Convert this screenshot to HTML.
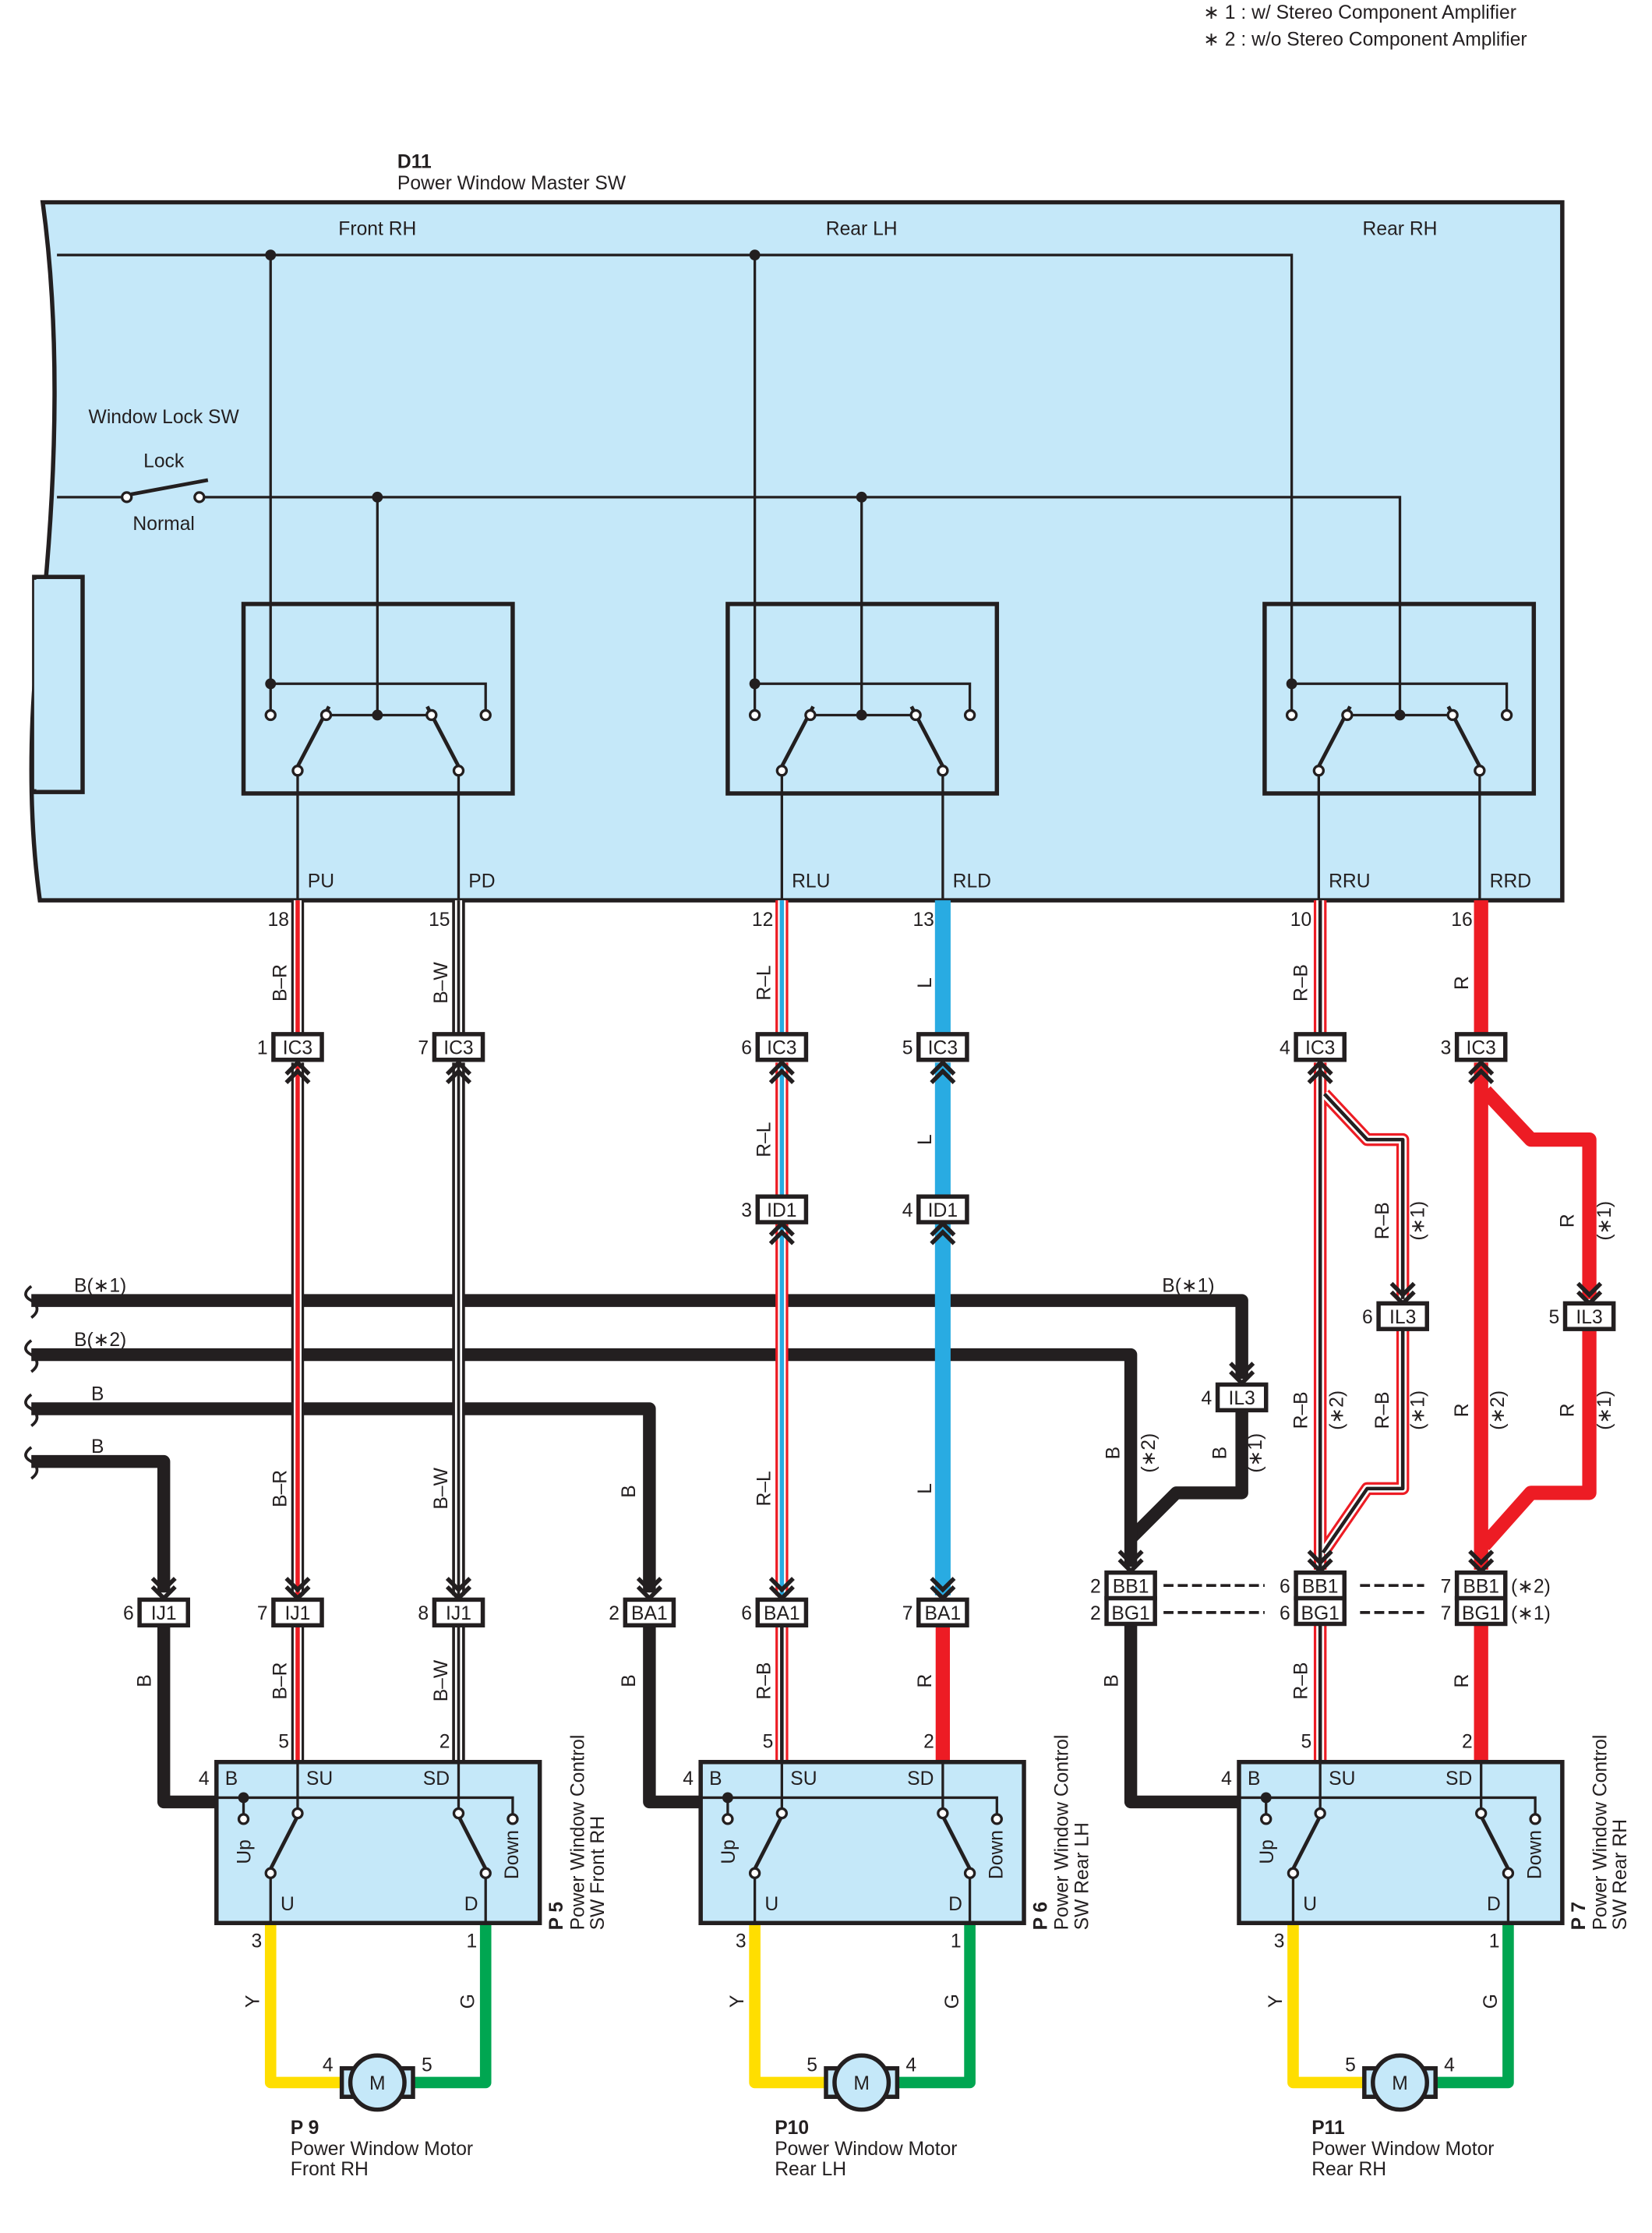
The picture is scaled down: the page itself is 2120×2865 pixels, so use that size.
<!DOCTYPE html>
<html><head><meta charset="utf-8"><style>
html,body{margin:0;padding:0;background:#fff}
svg{display:block}
text{font-family:"Liberation Sans",Arial,sans-serif;font-size:13.5px;fill:#231f20}
.b{font-weight:bold}
.m{text-anchor:middle}
.e{text-anchor:end}
</style></head><body>
<svg width="2120" height="2865" viewBox="0 0 1160 1567.6" xmlns="http://www.w3.org/2000/svg">
<defs>
<path id="chd" d="M-8,-13 L0,-5 L8,-13 M-8,-7 L0,1 L8,-7" fill="none" stroke="#231f20" stroke-width="3"/>
<path id="chu" d="M-8,13 L0,5 L8,13 M-8,7 L0,-1 L8,7" fill="none" stroke="#231f20" stroke-width="3"/>
</defs>

<!-- notes -->
<text x="845" y="13">∗ 1 : w/ Stereo Component Amplifier</text>
<text x="845" y="32">∗ 2 : w/o Stereo Component Amplifier</text>
<text x="279" y="118" class="b">D11</text>
<text x="279" y="133">Power Window Master SW</text>

<!-- master box -->
<path d="M30,142 L1097,142 L1097,632 L28,632 C18,560 22,480 30,430 C40,330 42,230 30,142 Z" fill="#c5e8f9" stroke="#231f20" stroke-width="3"/>
<rect x="24" y="405" width="34" height="151" fill="#c5e8f9" stroke="#231f20" stroke-width="3"/>
<rect x="24" y="407" width="5" height="147" fill="#c5e8f9"/>
<text x="265" y="165" class="m">Front RH</text>
<text x="605" y="165" class="m">Rear LH</text>
<text x="983" y="165" class="m">Rear RH</text>
<text x="115" y="297" class="m">Window Lock SW</text>
<text x="115" y="328" class="m">Lock</text>
<text x="115" y="372" class="m">Normal</text>

<g stroke="#231f20" stroke-width="1.8" fill="none">
<path d="M40,179 L907,179 L907,480"/>
<path d="M40,349 L86,349 M144,349 L983,349 L983,502"/>
<path d="M92,347 L146,337" stroke-width="2.6"/>
<circle cx="89" cy="349" r="3.3" fill="#fff"/><circle cx="140" cy="349" r="3.3" fill="#fff"/>
<!-- switch boxes -->
<g id="sw1">
<rect x="171" y="424" width="189" height="133" stroke-width="3"/>
<path d="M190,179 L190,498 M190,480 L341,480 L341,498 M265,349 L265,502 M229,502 L303,502 M209,545 L209,632 M322,545 L322,632"/>
<path d="M209,538 L231,496 M322,538 L300,496" stroke-width="2.6"/>
<circle cx="190" cy="502" r="3.3" fill="#fff"/><circle cx="341" cy="502" r="3.3" fill="#fff"/>
<circle cx="229" cy="502" r="3.3" fill="#fff"/><circle cx="303" cy="502" r="3.3" fill="#fff"/>
<circle cx="209" cy="541" r="3.3" fill="#fff"/><circle cx="322" cy="541" r="3.3" fill="#fff"/>
</g>
<use href="#sw1" transform="translate(340,0)"/>
<g transform="translate(717,0)">
<rect x="171" y="424" width="189" height="133" stroke-width="3"/>
<path d="M190,480 L190,498 M190,480 L341,480 L341,498 M229,502 L303,502 M209,545 L209,632 M322,545 L322,632"/>
<path d="M209,538 L231,496 M322,538 L300,496" stroke-width="2.6"/>
<circle cx="190" cy="502" r="3.3" fill="#fff"/><circle cx="341" cy="502" r="3.3" fill="#fff"/>
<circle cx="229" cy="502" r="3.3" fill="#fff"/><circle cx="303" cy="502" r="3.3" fill="#fff"/>
<circle cx="209" cy="541" r="3.3" fill="#fff"/><circle cx="322" cy="541" r="3.3" fill="#fff"/>
</g>
</g>
<g fill="#231f20">
<circle cx="190" cy="179" r="3.8"/><circle cx="530" cy="179" r="3.8"/>
<circle cx="265" cy="349" r="3.8"/><circle cx="605" cy="349" r="3.8"/>
<circle cx="190" cy="480" r="3.8"/><circle cx="530" cy="480" r="3.8"/><circle cx="907" cy="480" r="3.8"/>
<circle cx="265" cy="502" r="3.8"/><circle cx="605" cy="502" r="3.8"/><circle cx="983" cy="502" r="3.8"/>
</g>
<text x="216" y="623">PU</text><text x="329" y="623">PD</text>
<text x="556" y="623">RLU</text><text x="669" y="623">RLD</text>
<text x="933" y="623">RRU</text><text x="1046" y="623">RRD</text>

<!-- wire paths -->
<g fill="none" stroke-linejoin="round">
<!-- black buses -->
<g stroke="#231f20" stroke-width="9">
<path d="M22,913 L872,913 L872,968"/>
<path d="M872,990 L872,1048 L826,1048 L794,1080"/>
<path d="M22,951 L794,951 L794,1100"/>
<path d="M22,989 L456,989 L456,1118"/>
<path d="M456,1141 L456,1265 L492,1265"/>
<path d="M22,1026 L115,1026 L115,1118"/>
<path d="M115,1141 L115,1265 L152,1265"/>
<path d="M794,1141 L794,1265 L870,1265"/>
</g>
<g stroke="#231f20" stroke-width="2">
<path d="M22,903 q-8,6 0,10 q8,6 0,12"/><path d="M22,941 q-8,6 0,10 q8,6 0,12"/>
<path d="M22,979 q-8,6 0,10 q8,6 0,12"/><path d="M22,1016 q-8,6 0,10 q8,6 0,12"/>
</g>
<!-- col A B-R -->
<path id="wa" d="M209,632 L209,726 M209,746 L209,1120 M209,1141 L209,1237"/>
<!-- col B B-W -->
<path id="wb" d="M322,632 L322,726 M322,746 L322,1120 M322,1141 L322,1237"/>
<!-- col C R-L -->
<path id="wc" d="M549,632 L549,726 M549,746 L549,839 M549,859 L549,1120"/>
<path id="wc2" d="M549,1141 L549,1237"/>
<!-- col E R-B -->
<path id="we" d="M927,632 L927,726 M927,746 L927,1102 M927,1141 L927,1237 M930,768 L960,800 L985,800 L985,912 M985,933 L985,1045 L960,1045 L929,1090"/>
<use href="#wa" stroke="#231f20" stroke-width="9"/><use href="#wa" stroke="#fff" stroke-width="5.5"/><use href="#wa" stroke="#ed1c24" stroke-width="3"/>
<use href="#wb" stroke="#231f20" stroke-width="9"/><use href="#wb" stroke="#fff" stroke-width="5"/><use href="#wb" stroke="#231f20" stroke-width="2"/>
<use href="#wc" stroke="#ed1c24" stroke-width="9"/><use href="#wc" stroke="#fff" stroke-width="5.5"/><use href="#wc" stroke="#29abe2" stroke-width="3"/>
<use href="#wc2" stroke="#ed1c24" stroke-width="9"/><use href="#wc2" stroke="#fff" stroke-width="5.5"/><use href="#wc2" stroke="#231f20" stroke-width="2.5"/>
<use href="#we" stroke="#ed1c24" stroke-width="9"/><use href="#we" stroke="#fff" stroke-width="5.5"/><use href="#we" stroke="#231f20" stroke-width="2.5"/>
<!-- col D -->
<path d="M662,632 L662,726 M662,746 L662,839 M662,859 L662,1120" stroke="#29abe2" stroke-width="11"/>
<path d="M662,1141 L662,1237" stroke="#ed1c24" stroke-width="10"/>
<!-- col F -->
<path d="M1040,632 L1040,726 M1040,746 L1040,1102 M1040,1141 L1040,1237 M1043,766 L1075,800 L1116,800 L1116,912 M1116,933 L1116,1048 L1075,1048 L1042,1085" stroke="#ed1c24" stroke-width="10"/>
<!-- motors wires -->
<g stroke-width="8">
<path d="M190,1350 L190,1462 L240,1462" stroke="#ffde00"/><path d="M341,1350 L341,1462 L290,1462" stroke="#00a651"/>
<path d="M530,1350 L530,1462 L580,1462" stroke="#ffde00"/><path d="M681,1350 L681,1462 L630,1462" stroke="#00a651"/>
<path d="M908,1350 L908,1462 L958,1462" stroke="#ffde00"/><path d="M1059,1350 L1059,1462 L1008,1462" stroke="#00a651"/>
</g>
<!-- dashed -->
<g stroke="#231f20" stroke-width="2" stroke-dasharray="7,3">
<path d="M817,1113 L888,1113 M817,1132 L888,1132 M955,1113 L1000,1113 M955,1132 L1000,1132"/>
</g>
</g>

<!-- chevrons -->
<g fill="none">
<use href="#chu" x="209" y="747"/><use href="#chu" x="322" y="747"/><use href="#chu" x="549" y="747"/><use href="#chu" x="662" y="747"/><use href="#chu" x="927" y="747"/><use href="#chu" x="1040" y="747"/>
<use href="#chu" x="549" y="860"/><use href="#chu" x="662" y="860"/>
<use href="#chd" x="115" y="1121"/><use href="#chd" x="209" y="1121"/><use href="#chd" x="322" y="1121"/><use href="#chd" x="456" y="1121"/><use href="#chd" x="549" y="1121"/><use href="#chd" x="662" y="1121"/>
<use href="#chd" x="794" y="1102"/><use href="#chd" x="927" y="1102"/><use href="#chd" x="1040" y="1102"/>
<use href="#chd" x="872" y="970"/><use href="#chd" x="985" y="914"/><use href="#chd" x="1116" y="914"/>
</g>

<!-- connectors -->
<g fill="#fff" stroke="#231f20" stroke-width="3">
<rect x="192" y="726" width="34" height="18"/><rect x="305" y="726" width="34" height="18"/>
<rect x="532" y="726" width="34" height="18"/><rect x="645" y="726" width="34" height="18"/>
<rect x="910" y="726" width="34" height="18"/><rect x="1023" y="726" width="34" height="18"/>
<rect x="532" y="840" width="34" height="18"/><rect x="645" y="840" width="34" height="18"/>
<rect x="98" y="1123" width="34" height="18"/><rect x="192" y="1123" width="34" height="18"/><rect x="305" y="1123" width="34" height="18"/>
<rect x="439" y="1123" width="34" height="18"/><rect x="532" y="1123" width="34" height="18"/><rect x="645" y="1123" width="34" height="18"/>
<rect x="777" y="1104" width="34" height="18"/><rect x="777" y="1122" width="34" height="18"/>
<rect x="910" y="1104" width="34" height="18"/><rect x="910" y="1122" width="34" height="18"/>
<rect x="1023" y="1104" width="34" height="18"/><rect x="1023" y="1122" width="34" height="18"/>
<rect x="855" y="972" width="34" height="18"/><rect x="968" y="915" width="34" height="18"/><rect x="1099" y="915" width="34" height="18"/>
</g>
<g class="m">
<text x="209" y="740" class="m">IC3</text><text x="322" y="740" class="m">IC3</text><text x="549" y="740" class="m">IC3</text><text x="662" y="740" class="m">IC3</text><text x="927" y="740" class="m">IC3</text><text x="1040" y="740" class="m">IC3</text>
<text x="549" y="854" class="m">ID1</text><text x="662" y="854" class="m">ID1</text>
<text x="115" y="1137" class="m">IJ1</text><text x="209" y="1137" class="m">IJ1</text><text x="322" y="1137" class="m">IJ1</text>
<text x="456" y="1137" class="m">BA1</text><text x="549" y="1137" class="m">BA1</text><text x="662" y="1137" class="m">BA1</text>
<text x="794" y="1118" class="m">BB1</text><text x="794" y="1137" class="m">BG1</text>
<text x="927" y="1118" class="m">BB1</text><text x="927" y="1137" class="m">BG1</text>
<text x="1040" y="1118" class="m">BB1</text><text x="1040" y="1137" class="m">BG1</text>
<text x="872" y="986" class="m">IL3</text><text x="985" y="929" class="m">IL3</text><text x="1116" y="929" class="m">IL3</text>
</g>
<!-- pin numbers -->
<g>
<text x="203" y="650" class="e">18</text><text x="316" y="650" class="e">15</text><text x="543" y="650" class="e">12</text><text x="656" y="650" class="e">13</text><text x="921" y="650" class="e">10</text><text x="1034" y="650" class="e">16</text>
<text x="188" y="740" class="e">1</text><text x="301" y="740" class="e">7</text><text x="528" y="740" class="e">6</text><text x="641" y="740" class="e">5</text><text x="906" y="740" class="e">4</text><text x="1019" y="740" class="e">3</text>
<text x="528" y="854" class="e">3</text><text x="641" y="854" class="e">4</text>
<text x="94" y="1137" class="e">6</text><text x="188" y="1137" class="e">7</text><text x="301" y="1137" class="e">8</text><text x="435" y="1137" class="e">2</text><text x="528" y="1137" class="e">6</text><text x="641" y="1137" class="e">7</text>
<text x="773" y="1118" class="e">2</text><text x="773" y="1137" class="e">2</text><text x="906" y="1118" class="e">6</text><text x="906" y="1137" class="e">6</text><text x="1019" y="1118" class="e">7</text><text x="1019" y="1137" class="e">7</text>
<text x="1061" y="1118">(∗2)</text><text x="1061" y="1137">(∗1)</text>
<text x="851" y="986" class="e">4</text><text x="964" y="929" class="e">6</text><text x="1095" y="929" class="e">5</text>
<text x="52" y="907">B(∗1)</text><text x="52" y="945">B(∗2)</text><text x="64" y="983">B</text><text x="64" y="1020">B</text><text x="816" y="907">B(∗1)</text>
</g>
<!-- rotated wire labels -->
<g>
<text transform="translate(201,690) rotate(-90)" class="m">B–R</text>
<text transform="translate(201,1045) rotate(-90)" class="m">B–R</text>
<text transform="translate(201,1180) rotate(-90)" class="m">B–R</text>
<text transform="translate(314,690) rotate(-90)" class="m">B–W</text>
<text transform="translate(314,1045) rotate(-90)" class="m">B–W</text>
<text transform="translate(314,1180) rotate(-90)" class="m">B–W</text>
<text transform="translate(541,690) rotate(-90)" class="m">R–L</text>
<text transform="translate(541,800) rotate(-90)" class="m">R–L</text>
<text transform="translate(541,1045) rotate(-90)" class="m">R–L</text>
<text transform="translate(541,1180) rotate(-90)" class="m">R–B</text>
<text transform="translate(654,690) rotate(-90)" class="m">L</text>
<text transform="translate(654,800) rotate(-90)" class="m">L</text>
<text transform="translate(654,1045) rotate(-90)" class="m">L</text>
<text transform="translate(654,1180) rotate(-90)" class="m">R</text>
<text transform="translate(918,690) rotate(-90)" class="m">R–B</text>
<text transform="translate(918,990) rotate(-90)" class="m">R–B</text>
<text transform="translate(943,990) rotate(-90)" class="m">(∗2)</text>
<text transform="translate(918,1180) rotate(-90)" class="m">R–B</text>
<text transform="translate(975,857) rotate(-90)" class="m">R–B</text>
<text transform="translate(1000,857) rotate(-90)" class="m">(∗1)</text>
<text transform="translate(975,990) rotate(-90)" class="m">R–B</text>
<text transform="translate(1000,990) rotate(-90)" class="m">(∗1)</text>
<text transform="translate(1031,690) rotate(-90)" class="m">R</text>
<text transform="translate(1031,990) rotate(-90)" class="m">R</text>
<text transform="translate(1056,990) rotate(-90)" class="m">(∗2)</text>
<text transform="translate(1031,1180) rotate(-90)" class="m">R</text>
<text transform="translate(1105,857) rotate(-90)" class="m">R</text>
<text transform="translate(1131,857) rotate(-90)" class="m">(∗1)</text>
<text transform="translate(1105,990) rotate(-90)" class="m">R</text>
<text transform="translate(1131,990) rotate(-90)" class="m">(∗1)</text>
<text transform="translate(786,1020) rotate(-90)" class="m">B</text>
<text transform="translate(811,1020) rotate(-90)" class="m">(∗2)</text>
<text transform="translate(861,1020) rotate(-90)" class="m">B</text>
<text transform="translate(886,1020) rotate(-90)" class="m">(∗1)</text>
<text transform="translate(446,1047) rotate(-90)" class="m">B</text>
<text transform="translate(446,1180) rotate(-90)" class="m">B</text>
<text transform="translate(106,1180) rotate(-90)" class="m">B</text>
<text transform="translate(785,1180) rotate(-90)" class="m">B</text>
</g>

<!-- control switches -->
<g id="cs">
<g stroke="#231f20" fill="none" stroke-width="1.8">
<rect x="152" y="1237" width="227" height="113" fill="#c5e8f9" stroke-width="3"/>
<path d="M152,1262 L360,1262 L360,1273 M171,1262 L171,1273 M209,1237 L209,1269 M322,1237 L322,1269 M190,1318 L190,1350 M341,1318 L341,1350"/>
<path d="M190,1312 L211,1271 M341,1312 L320,1271" stroke-width="2.6"/>
<circle cx="171" cy="1277" r="3.3" fill="#fff"/><circle cx="360" cy="1277" r="3.3" fill="#fff"/>
<circle cx="209" cy="1273" r="3.3" fill="#fff"/><circle cx="322" cy="1273" r="3.3" fill="#fff"/>
<circle cx="190" cy="1315" r="3.3" fill="#fff"/><circle cx="341" cy="1315" r="3.3" fill="#fff"/>
</g>
<circle cx="171" cy="1262" r="3.8" fill="#231f20"/>
<!-- motor -->
<g stroke="#231f20" stroke-width="3" fill="#c5e8f9">
<rect x="240" y="1452" width="50" height="20"/>
<circle cx="265" cy="1462" r="19"/>
</g>
</g>
<use href="#cs" transform="translate(340,0)"/>
<use href="#cs" transform="translate(718,0)"/>

<g>
<text x="158" y="1253">B</text><text x="215" y="1253">SU</text><text x="297" y="1253">SD</text><text x="197" y="1341">U</text><text x="326" y="1341">D</text>
<text x="498" y="1253">B</text><text x="555" y="1253">SU</text><text x="637" y="1253">SD</text><text x="537" y="1341">U</text><text x="666" y="1341">D</text>
<text x="876" y="1253">B</text><text x="933" y="1253">SU</text><text x="1015" y="1253">SD</text><text x="915" y="1341">U</text><text x="1044" y="1341">D</text>
<text transform="translate(176,1300) rotate(-90)" class="m">Up</text><text transform="translate(364,1302) rotate(-90)" class="m">Down</text>
<text transform="translate(516,1300) rotate(-90)" class="m">Up</text><text transform="translate(704,1302) rotate(-90)" class="m">Down</text>
<text transform="translate(894,1300) rotate(-90)" class="m">Up</text><text transform="translate(1082,1302) rotate(-90)" class="m">Down</text>
<text x="147" y="1253" class="e">4</text><text x="487" y="1253" class="e">4</text><text x="865" y="1253" class="e">4</text>
<text x="203" y="1227" class="e">5</text><text x="316" y="1227" class="e">2</text>
<text x="543" y="1227" class="e">5</text><text x="656" y="1227" class="e">2</text>
<text x="921" y="1227" class="e">5</text><text x="1034" y="1227" class="e">2</text>
<text x="184" y="1367" class="e">3</text><text x="335" y="1367" class="e">1</text>
<text x="524" y="1367" class="e">3</text><text x="675" y="1367" class="e">1</text>
<text x="902" y="1367" class="e">3</text><text x="1053" y="1367" class="e">1</text>
<text transform="translate(182,1405) rotate(-90)" class="m">Y</text><text transform="translate(333,1405) rotate(-90)" class="m">G</text>
<text transform="translate(522,1405) rotate(-90)" class="m">Y</text><text transform="translate(673,1405) rotate(-90)" class="m">G</text>
<text transform="translate(900,1405) rotate(-90)" class="m">Y</text><text transform="translate(1051,1405) rotate(-90)" class="m">G</text>
<text x="265" y="1467" class="m">M</text><text x="605" y="1467" class="m">M</text><text x="983" y="1467" class="m">M</text>
<text x="234" y="1454" class="e">4</text><text x="296" y="1454">5</text>
<text x="574" y="1454" class="e">5</text><text x="636" y="1454">4</text>
<text x="952" y="1454" class="e">5</text><text x="1014" y="1454">4</text>
<text x="204" y="1498" class="b">P 9</text><text x="204" y="1513">Power Window Motor</text><text x="204" y="1527">Front RH</text>
<text x="544" y="1498" class="b">P10</text><text x="544" y="1513">Power Window Motor</text><text x="544" y="1527">Rear LH</text>
<text x="921" y="1498" class="b">P11</text><text x="921" y="1513">Power Window Motor</text><text x="921" y="1527">Rear RH</text>
<g transform="translate(395,1355) rotate(-90)"><text class="b">P 5</text><text y="15">Power Window Control</text><text y="29">SW Front RH</text></g>
<g transform="translate(735,1355) rotate(-90)"><text class="b">P 6</text><text y="15">Power Window Control</text><text y="29">SW Rear LH</text></g>
<g transform="translate(1113,1355) rotate(-90)"><text class="b">P 7</text><text y="15">Power Window Control</text><text y="29">SW Rear RH</text></g>
</g>
</svg>
</body></html>
